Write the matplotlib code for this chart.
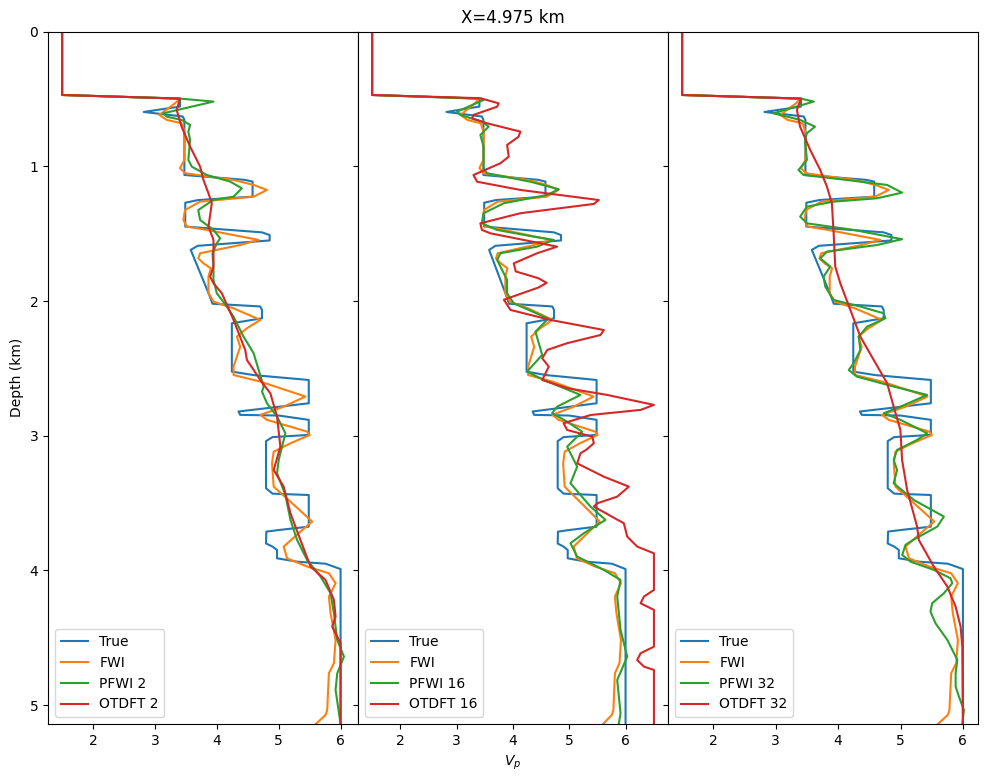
import matplotlib
matplotlib.use("Agg")
import matplotlib.pyplot as plt

# depth (km) / Vp samples at X=4.975 km
depth_true = [0.0, 0.47, 0.497, 0.556, 0.596, 0.63, 0.655, 1.064, 1.10, 1.113, 1.225, 1.25, 1.27, 1.447,
              1.49, 1.51, 1.55, 1.59, 1.62, 1.94, 2.02, 2.04, 2.066, 2.128, 2.165, 2.524, 2.55, 2.586,
              2.759, 2.82, 2.845, 2.85, 2.882, 2.994, 3.01, 3.04, 3.39, 3.43, 3.44, 3.675, 3.70, 3.712,
              3.80, 3.823, 3.848, 3.91, 3.935, 3.95, 3.99, 5.14]
vp_true = [1.5, 1.5, 3.405, 3.405, 2.82, 3.45, 3.476, 3.476, 4.45, 4.578, 4.578, 3.7, 3.49, 3.49,
           4.73, 4.854, 4.854, 3.69, 3.578, 3.865, 3.93, 4.70, 4.73, 4.73, 4.243, 4.243, 4.6, 5.486,
           5.486, 4.35, 4.378, 5.0, 5.486, 5.486, 4.90, 4.795, 4.795, 4.9, 5.486, 5.486, 5.0, 4.80,
           4.795, 4.9, 4.973, 4.973, 5.3, 5.757, 6.0, 6.0]

depth_fwi = [0.0, 0.47, 0.497, 0.532, 0.618, 0.655, 0.68, 0.754, 0.952, 1.014, 1.051, 1.101, 1.138,
             1.175, 1.225, 1.262, 1.324, 1.398, 1.447, 1.472, 1.546, 1.584, 1.645, 1.683, 1.72, 1.757,
             1.819, 1.942, 2.004, 2.054, 2.14, 2.202, 2.264, 2.339, 2.487, 2.549, 2.598, 2.709, 2.784,
             2.845, 2.882, 2.969, 2.994, 3.056, 3.118, 3.205, 3.378, 3.49, 3.637, 3.712, 3.823, 3.91,
             3.971, 4.021, 4.095, 4.194, 4.318, 4.516, 4.689, 4.764, 5.036, 5.073, 5.14]
vp_fwi = [1.5, 1.5, 3.405, 3.324, 3.07, 3.19, 3.43, 3.486, 3.476, 3.405, 3.486, 4.27, 4.595, 4.81,
          4.595, 3.73, 3.486, 3.46, 3.514, 3.838, 4.676, 4.378, 3.73, 3.70, 3.784, 3.903, 3.865, 3.865,
          3.946, 4.27, 4.703, 4.486, 4.324, 4.378, 4.27, 4.27, 4.703, 5.432, 5.08, 4.703, 4.81, 5.459,
          5.503, 5.19, 4.919, 4.892, 4.919, 5.19, 5.54, 5.351, 5.08, 5.135, 5.459, 5.811, 5.919,
          5.811, 5.838, 5.919, 5.892, 5.811, 5.784, 5.757, 5.60]

depth_pfwi2 = [0.0, 0.47, 0.497, 0.519, 0.606, 0.631, 0.655, 0.692, 0.742, 0.804, 0.952, 1.002, 1.064,
               1.113, 1.163, 1.225, 1.249, 1.324, 1.398, 1.472, 1.534, 1.571, 1.645, 1.744, 1.843,
               1.942, 2.041, 2.116, 2.264, 2.388, 2.635, 2.672, 2.759, 2.857, 2.982, 3.081, 3.18, 3.279,
               3.44, 3.625, 3.774, 3.922, 4.046, 4.169, 4.318, 4.516, 4.64, 4.764, 4.887, 5.14]
vp_pfwi2 = [1.5, 1.5, 3.405, 3.946, 3.135, 3.19, 3.43, 3.568, 3.54, 3.568, 3.54, 3.595, 3.838, 4.216,
            4.405, 4.27, 3.946, 3.70, 3.73, 3.946, 4.054, 4.0, 3.93, 3.946, 3.946, 4.0, 4.162, 4.27,
            4.432, 4.595, 4.757, 4.73, 4.81, 4.973, 5.108, 5.054, 5.0, 4.973, 5.108, 5.19, 5.297,
            5.459, 5.676, 5.838, 5.892, 5.946, 6.054, 5.946, 5.919, 6.0]

depth_ot2 = [0.0, 0.47, 0.497, 0.581, 0.705, 0.853, 1.002, 1.101, 1.2, 1.274, 1.447, 1.546, 1.744,
             1.819, 1.868, 1.942, 2.14, 2.363, 2.437, 2.586, 2.685, 2.857, 3.081, 3.254, 3.378, 3.576,
             3.774, 3.971, 4.071, 4.219, 4.343, 4.417, 4.541, 5.14]
vp_ot2 = [1.5, 1.5, 3.405, 3.351, 3.43, 3.568, 3.73, 3.784, 3.865, 3.919, 3.865, 3.946, 3.946, 3.892,
          3.946, 4.081, 4.27, 4.459, 4.486, 4.703, 4.865, 4.973, 5.027, 4.919, 5.08, 5.19, 5.351,
          5.514, 5.757, 5.892, 5.919, 5.865, 6.0, 6.0]

depth_pfwi16 = [0.0, 0.47, 0.497, 0.507, 0.594, 0.618, 0.668, 0.705, 0.767, 0.854, 1.014, 1.051, 1.114,
                1.17, 1.212, 1.274, 1.348, 1.423, 1.472, 1.522, 1.546, 1.596, 1.645, 1.695, 1.843,
                1.942, 2.017, 2.13, 2.227, 2.40, 2.524, 2.586, 2.697, 2.784, 2.833, 2.895, 2.97, 3.081,
                3.23, 3.353, 3.526, 3.625, 3.724, 3.798, 3.897, 3.996, 4.071, 4.194, 4.442, 4.64,
                4.813, 5.061, 5.14]
vp_pfwi16 = [1.5, 1.5, 3.405, 3.48, 3.008, 3.067, 3.45, 3.57, 3.422, 3.48, 3.48, 3.54, 4.311, 4.814,
             4.61, 3.836, 3.48, 3.45, 3.72, 4.37, 4.726, 4.43, 3.778, 3.72, 3.896, 3.896, 4.015, 4.63,
             4.40, 4.52, 4.252, 4.548, 5.2, 4.785, 4.696, 4.963, 5.23, 4.963, 5.141, 5.022, 5.378,
             5.644, 5.26, 5.022, 5.141, 5.615, 5.911, 5.852, 5.911, 6.03, 5.852, 5.911, 5.88]

depth_ot16 = [0.0, 0.47, 0.494, 0.532, 0.557, 0.618, 0.643, 0.68, 0.742, 0.78, 0.841, 0.928, 0.977,
              1.064, 1.114, 1.175, 1.25, 1.279, 1.348, 1.423, 1.472, 1.497, 1.596, 1.645, 1.72, 1.78,
              1.83, 1.865, 1.90, 1.99, 2.066, 2.14, 2.215, 2.252, 2.313, 2.363, 2.425, 2.487, 2.586,
              2.647, 2.697, 2.771, 2.808, 2.846, 2.907, 2.957, 3.007, 3.056, 3.105, 3.13, 3.205, 3.304,
              3.378, 3.452, 3.502, 3.526, 3.65, 3.749, 3.823, 3.873, 4.145, 4.194, 4.244, 4.293, 4.566,
              4.615, 4.665, 4.714, 4.739, 5.14]
vp_ot16 = [1.5, 1.5, 3.422, 3.748, 3.72, 3.30, 3.275, 3.54, 4.133, 4.10, 3.897, 3.926, 3.778, 3.30,
           3.364, 4.133, 5.526, 5.437, 4.133, 3.422, 3.45, 3.60, 4.785, 4.43, 4.015, 4.05, 4.45, 4.6,
           4.45, 3.84, 3.956, 4.667, 5.614, 5.556, 4.963, 4.61, 4.52, 4.637, 4.52, 4.963, 5.674, 6.504,
           6.27, 5.38, 4.90, 4.963, 5.41, 5.437, 5.30, 5.20, 5.141, 5.615, 6.059, 5.852, 5.496, 5.437,
           5.97, 6.03, 6.207, 6.504, 6.504, 6.326, 6.267, 6.504, 6.504, 6.267, 6.207, 6.326, 6.504,
           6.504]

depth_pfwi32 = [0.0, 0.47, 0.497, 0.519, 0.606, 0.618, 0.655, 0.705, 0.754, 0.804, 0.952, 1.027, 1.064,
                1.101, 1.138, 1.195, 1.237, 1.262, 1.299, 1.373, 1.423, 1.472, 1.541, 1.584, 1.633,
                1.683, 1.744, 1.819, 1.893, 1.992, 2.041, 2.091, 2.128, 2.19, 2.264, 2.363, 2.462,
                2.512, 2.561, 2.635, 2.697, 2.784, 2.833, 2.882, 2.982, 3.031, 3.105, 3.18, 3.254,
                3.353, 3.477, 3.6, 3.675, 3.774, 3.81, 3.885, 3.935, 3.996, 4.058, 4.095, 4.169, 4.243,
                4.306, 4.392, 4.516, 4.664, 4.763, 4.862, 4.937, 5.036, 5.14]
vp_pfwi32 = [1.5, 1.5, 3.405, 3.61, 2.96, 3.07, 3.39, 3.63, 3.50, 3.47, 3.50, 3.365, 3.446, 4.14, 4.785,
             5.025, 4.624, 3.928, 3.50, 3.392, 3.50, 4.25, 5.025, 4.624, 3.82, 3.713, 3.874, 3.767,
             3.794, 3.928, 4.356, 4.73, 4.758, 4.463, 4.33, 4.356, 4.25, 4.17, 4.30, 4.89, 5.427, 5.0,
             4.73, 5.0, 5.427, 5.266, 4.945, 4.89, 4.945, 4.89, 5.213, 5.695, 5.588, 5.2, 5.08, 5.027,
             5.16, 5.534, 5.80, 5.83, 5.695, 5.508, 5.48, 5.56, 5.75, 5.91, 5.883, 5.883, 5.936, 6.016,
             5.99]

depth_ot32 = [0.0, 0.47, 0.497, 0.581, 0.705, 0.878, 1.027, 1.15, 1.274, 1.497, 1.744, 1.868, 2.066,
              2.264, 2.437, 2.61, 2.784, 2.957, 3.18, 3.403, 3.675, 3.774, 3.972, 4.12, 4.269, 4.418,
              4.566, 5.14]
vp_ot32 = [1.5, 1.5, 3.405, 3.34, 3.39, 3.553, 3.713, 3.82, 3.90, 3.928, 3.954, 4.035, 4.196, 4.356,
           4.57, 4.785, 4.89, 4.998, 5.025, 5.106, 5.266, 5.293, 5.534, 5.75, 5.883, 5.963, 5.99, 6.0]

panels = [
    (2, depth_pfwi2, vp_pfwi2, depth_ot2, vp_ot2),
    (16, depth_pfwi16, vp_pfwi16, depth_ot16, vp_ot16),
    (32, depth_pfwi32, vp_pfwi32, depth_ot32, vp_ot32),
]

fig, axes = plt.subplots(1, 3, figsize=(9.88, 7.82), dpi=100, sharey=True)
fig.subplots_adjust(left=0.0486, right=0.9899, bottom=0.0742, top=0.9595, wspace=0)

for ax, (n, d_pf, v_pf, d_ot, v_ot) in zip(axes, panels):
    ax.plot(vp_true, depth_true, label="True")
    ax.plot(vp_fwi, depth_fwi, label="FWI")
    ax.plot(v_pf, d_pf, label=f"PFWI {n}")
    ax.plot(v_ot, d_ot, label=f"OTDFT {n}")
    ax.legend(loc="lower left")

axes[0].set_ylim(5.14, 0)
axes[0].set_ylabel("Depth (km)")
axes[1].set_title("X=4.975 km")
axes[1].set_xlabel("$V_p$")

fig.savefig("out.png", dpi=100)
